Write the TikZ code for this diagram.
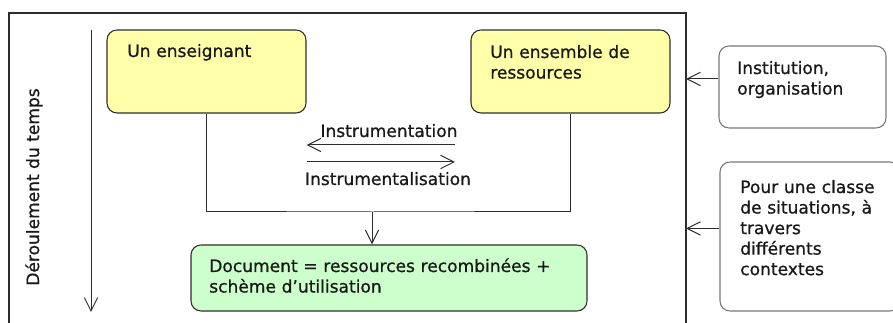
\documentclass[tikz,border=0pt]{standalone}
\usepackage{fontspec}
\setmainfont{DejaVu Sans}[FakeBold=0.8]
\usepackage{tikz}
\usetikzlibrary{arrows.meta,fit,positioning}

\definecolor{jaune}{RGB}{255,255,170}
\definecolor{vert}{RGB}{204,255,204}
\definecolor{trait}{RGB}{45,45,45}
\definecolor{bord}{RGB}{120,120,120}

\begin{document}
\begin{tikzpicture}[x=0.75pt, y=-0.75pt,
	boite/.style={draw=trait, line width=0.8pt, rounded corners=7.5pt, inner sep=0pt},
	ybox/.style={boite, fill=jaune},
	gbox/.style={boite, fill=vert},
	wbox/.style={boite, draw=bord, fill=white},
	txt/.style={inner sep=0pt, anchor=base west, text width=300pt, align=left, text=black!90, font=\fontsize{12.8}{15.4}\selectfont},
	lbl/.style={inner sep=0pt, anchor=base, text=black!90, font=\fontsize{12.8}{15.4}\selectfont},
	lien/.style={draw=trait, line width=0.75pt},
	fl/.style={lien, -{Straight Barb[length=10pt,width=10pt]}}]
		\useasboundingbox (0,0) rectangle (893,323);
		\coordinate (fbl) at (9,323);
		\coordinate (ftl) at (9,13);
		\coordinate (ftr) at (686,13);
		\coordinate (fbr) at (686,323);
		\draw[lien, line width=1pt] (fbl) -- (ftl) -- (ftr) -- (fbr);
		\coordinate (t0) at (91,30);
		\coordinate (t1) at (91,312);
		\draw[fl] (t0) -- (t1);
		\node[lbl, anchor=center, rotate=90] (temps) at (34,187) {Déroulement du temps};
		\node[ybox, fit={(107,30) (306,113)}] (ens) {};
		\node[ybox, fit={(471,30) (670,113)}] (res) {};
		\node[gbox, fit={(191,245) (587,311)}] (doc) {};
		\node[wbox, fit={(719,46) (886,128)}] (inst) {};
		\node[wbox, fit={(720,162) (900,311)}] (cls) {};
		\node[txt] (ensT) at (127,57) {Un enseignant};
		\node[txt] (resT) at (490,58) {Un ensemble de\\ressources};
		\node[txt] (docT) at (209,272) {Document = ressources recombinées +\\schème d’utilisation};
		\node[txt] (instT) at (737,74) {Institution,\\organisation};
		\node[txt] (clsT) at (740,193) {Pour une classe\\de situations, à\\travers\\différents\\contextes};
		\coordinate (j) at (372,212);
		\draw[lien] (ens.south) |- (j) -| (res.south);
		\draw[fl] (j) -- (j |- doc.north);
		\coordinate (i1) at (455,145);
		\coordinate (i2) at (455,162);
		\draw[fl] (i1) -- (i1 -| ens.east);
		\draw[fl] (i2 -| ens.east) -- (i2);
		\node[lbl] (instr) at (389,137) {Instrumentation};
		\node[lbl] (instl) at (388,185) {Instrumentalisation};
		\coordinate (ia) at ([yshift=6pt]inst.west);
		\coordinate (ca) at ([yshift=6pt]cls.west);
		\draw[fl] (ia) -- (ia -| ftr);
		\draw[fl] (ca) -- (ca -| ftr);
\end{tikzpicture}
\end{document}
